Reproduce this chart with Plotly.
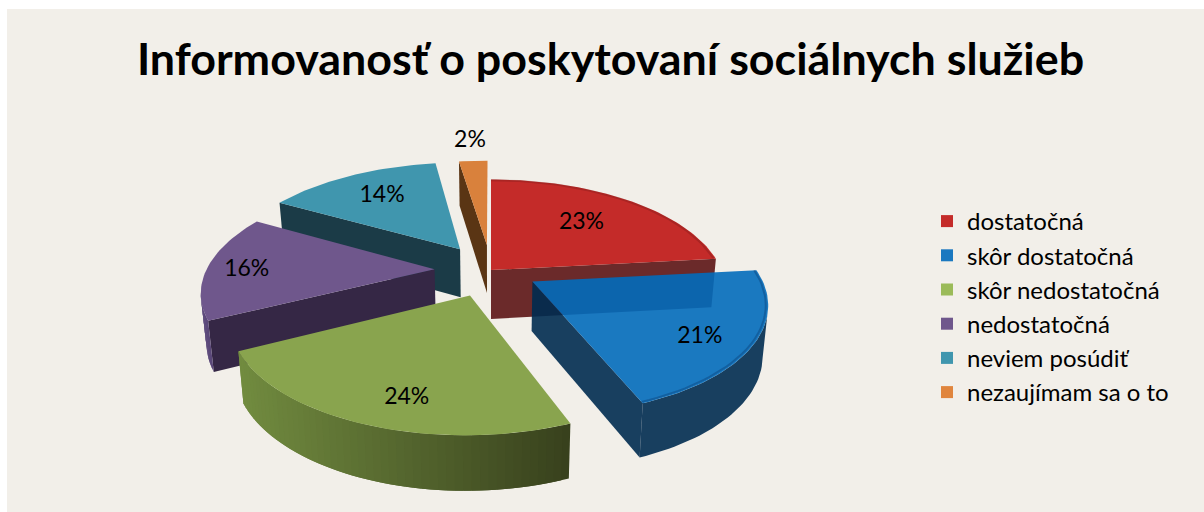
import math
import plotly.graph_objects as go

title = "Informovanosť o poskytovaní sociálnych služieb"
categories = ["dostatočná", "skôr dostatočná", "skôr nedostatočná", "nedostatočná", "neviem posúdiť", "nezaujímam sa o to"]
values = [23.3, 20.7, 23.6, 15.6, 14.4, 2.4]
explode = [0.0, 0.21, 0.25, 0.25, 0.25, 0.25]
radius = [1.02, 1.0, 1.0, 1.01, 1.05, 1.03]
top_colors = ["#c42b29", "rgba(2,107,187,0.9)", "#89a44e", "#6f578c", "#4096ae", "#d9813c"]
wall_colors = ["#6b2a2a", "rgba(0,43,80,0.9)", "#556b2f", "#352745", "#1b3b47", "#5a3514"]
arc_wall_stops = {2: ((0x72, 0x8c, 0x40), (0x38, 0x41, 0x1d)), 3: ((0x5d, 0x4a, 0x7c), (0x4d, 0x3c, 0x66))}
rim_colors = {0: "rgba(90,20,20,0.25)", 1: "rgba(0,40,90,0.30)"}
legend_colors = ["#c42b29", "#1a78c0", "#9bbb59", "#6f578c", "#4096ae", "#e0853d"]
label_radius = [0.65, 0.80, 0.80, 0.83, 0.72, 1.33]
label_frac = [0.5, 0.56, 0.44, 0.46, 0.5, 0.5]
draw_order = [4, 5, 0, 3, 2, 1]

W, H = 1204, 512
BG = "#f2efe9"
CX, CY, A, B, P, DEPTH, SHRINK = 491, 270, 226, 104.8, 0.177, 49, 0.98
FONT = "Lato"


def proj(X, Y):
    f = 1 / (1 + P * Y)
    return CX + A * X * f, CY - B * Y * f, f


def lower(pt):
    x, y, f = pt
    return CX + (x - CX) * SHRINK, y + DEPTH * math.sqrt(f)


total = sum(values)
fig = go.Figure()
bounds, a0 = [], 0.0
for v in values:
    bounds.append((a0, a0 + v / total * 2 * math.pi))
    a0 += v / total * 2 * math.pi


def offset(i):
    mid = sum(bounds[i]) / 2
    return explode[i] * math.sin(mid), explode[i] * math.cos(mid)


def arc_points(i, n, scale=1.0):
    t0, t1 = bounds[i]
    ox, oy = offset(i)
    r = radius[i] * scale
    return [proj(ox + r * math.sin(t0 + (t1 - t0) * k / n), oy + r * math.cos(t0 + (t1 - t0) * k / n)) for k in range(n + 1)]


def poly(xs, ys, fill):
    fig.add_trace(go.Scatter(x=xs + xs[:1], y=ys + ys[:1], mode="lines", fill="toself", fillcolor=fill,
                             line=dict(width=0), hoverinfo="skip", showlegend=False))


def wall(p, q, col):
    # top outline is clockwise on screen, so an edge faces the viewer when it runs leftwards
    if q[0] < p[0]:
        a, b = lower(p), lower(q)
        poly([p[0], q[0], b[0], a[0]], [p[1], q[1], b[1], a[1]], col)


for i in draw_order:
    ox, oy = offset(i)
    apex = proj(ox, oy)
    arc = arc_points(i, max(8, int(values[i] * 2.5)))
    wall(apex, arc[0], wall_colors[i])
    wall(arc[-1], apex, wall_colors[i])
    if i in arc_wall_stops:
        c0, c1 = arc_wall_stops[i]
        pts = arc_points(i, 50)
        xs = [p[0] for p in pts]
        xmin, xmax = min(xs), max(xs)
        # painted with overlap so no seams show
        for k in range(50):
            u = ((pts[k][0] + pts[k + 1][0]) / 2 - xmin) / (xmax - xmin)
            col = "rgb(%d,%d,%d)" % tuple(int(c0[j] + (c1[j] - c0[j]) * u) for j in range(3))
            wall(pts[k], pts[min(k + 2, 50)], col)
    else:
        vis = [k for k in range(len(arc) - 1) if arc[k + 1][0] < arc[k][0]]
        if vis:
            seg = arc[vis[0]: vis[-1] + 2]
            low = [lower(p) for p in seg]
            poly([p[0] for p in seg] + [p[0] for p in low[::-1]],
                 [p[1] for p in seg] + [p[1] for p in low[::-1]], wall_colors[i])
    poly([apex[0]] + [p[0] for p in arc], [apex[1]] + [p[1] for p in arc], top_colors[i])
    if i in rim_colors:
        # soft bevel just inside the outer rim of the top face
        rim = arc_points(i, 40, 0.99)
        fig.add_trace(go.Scatter(x=[p[0] for p in rim], y=[p[1] for p in rim], mode="lines",
                                 line=dict(width=2, color=rim_colors[i]), hoverinfo="skip", showlegend=False))

lx, ly, lt = [], [], []
for i, v in enumerate(values):
    t0, t1 = bounds[i]
    ang = t0 + (t1 - t0) * label_frac[i]
    ox, oy = offset(i)
    p = proj(ox + label_radius[i] * math.sin(ang), oy + label_radius[i] * math.cos(ang))
    lx.append(p[0]); ly.append(p[1]); lt.append(f"{math.ceil(v - 0.4)}%")
fig.add_trace(go.Scatter(x=lx, y=ly, mode="text", text=lt, textposition="middle center",
                         textfont=dict(family=FONT, size=23, color="#000000"), hoverinfo="skip", showlegend=False))

for name, col in zip(categories, legend_colors):
    fig.add_trace(go.Scatter(x=[None], y=[None], mode="markers", name=name,
                             marker=dict(symbol="square", size=15, color=col)))

fig.update_layout(
    width=W, height=H, margin=dict(l=0, r=0, t=0, b=0), autosize=False,
    paper_bgcolor="#ffffff", plot_bgcolor="rgba(0,0,0,0)",
    xaxis=dict(range=[0, W], visible=False, fixedrange=True),
    yaxis=dict(range=[H, 0], visible=False, fixedrange=True),
    shapes=[dict(type="rect", xref="paper", yref="paper", x0=7 / W, x1=1, y0=0, y1=1 - 9 / H, fillcolor=BG,
                 line=dict(width=0), layer="below")],
    title=dict(text=f"<b>{title}</b>", x=610.5 / W, xanchor="center", y=1 - 59 / H, yanchor="middle",
               font=dict(family=FONT, size=44.8, color="#000000")),
    legend=dict(x=927 / W, y=1 - 199 / H, xanchor="left", yanchor="top", bgcolor="rgba(0,0,0,0)",
                font=dict(family=FONT, size=24, color="#000000"), itemsizing="constant"),
    font=dict(family=FONT),
)
fig.write_html("out.html", config={"displayModeBar": False},
               post_script="document.body.style.margin='0';document.documentElement.style.overflow='hidden';")
